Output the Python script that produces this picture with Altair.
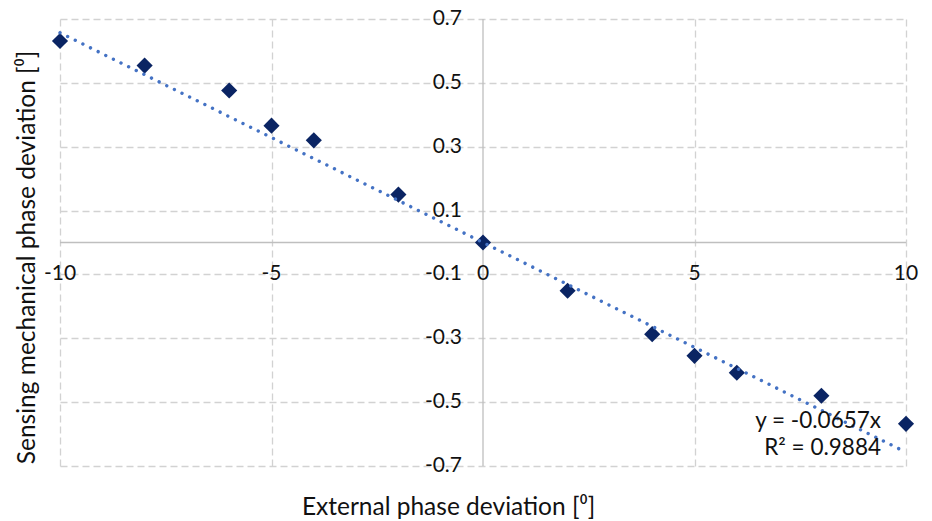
import altair as alt
import pandas as pd

# ---- data ----
x_vals = [-10, -8, -6, -5, -4, -2, 0, 2, 4, 5, 6, 8, 10]
y_vals = [0.631, 0.554, 0.476, 0.366, 0.320, 0.150, 0.0, -0.151, -0.287, -0.355, -0.408, -0.480, -0.568]
slope = -0.0657
trend_x = [-10, 10]
x_ticks = [-10, -5, 0, 5, 10]
x_tick_labels = ["-10", "-5", "0", "5", "10"]
y_ticks = [0.7, 0.5, 0.3, 0.1, -0.1, -0.3, -0.5, -0.7]
y_tick_labels = ["0.7", "0.5", "0.3", "0.1", "-0.1", "-0.3", "-0.5", "-0.7"]
x_grid = [-10, -5, 5, 10]
y_grid = [-0.7, -0.5, -0.3, -0.1, 0.1, 0.3, 0.5, 0.7]
eq_lines = ["y = -0.0657x", "R² = 0.9884"]
eq_x = [10, 10]
eq_y = [-0.559, -0.643]

FONT = "Lato"
TXT = "#111111"

pts = pd.DataFrame({"x": x_vals, "y": y_vals})
trend = pd.DataFrame({"x": trend_x})
xt = pd.DataFrame({"x": x_ticks, "y": [0] * len(x_ticks), "label": x_tick_labels})
yt = pd.DataFrame({"x": [0] * len(y_ticks), "y": y_ticks, "label": y_tick_labels})
eq = pd.DataFrame({"x": eq_x, "y": eq_y, "label": eq_lines})
zero = pd.DataFrame({"v": [0]})

xs = alt.Scale(domain=[-10, 10], nice=False, zero=False)
ys = alt.Scale(domain=[-0.7, 0.7], nice=False, zero=False)

points = alt.Chart(pts).mark_point(
    shape="diamond", filled=True, size=260, color="#0A2463", opacity=1
).encode(
    x=alt.X("x:Q", scale=xs, axis=alt.Axis(
        values=x_grid, grid=True, gridDash=[7, 4], gridColor="#D2D2D2", gridWidth=1.3,
        labels=False, ticks=False, domain=False,
        title="External phase deviation [⁰]", titleFont=FONT, titleFontSize=24.5,
        titleFontWeight="normal", titleColor=TXT, titleX=388, titleY=41,
        titleBaseline="middle", titleAlign="center")),
    y=alt.Y("y:Q", scale=ys, axis=alt.Axis(
        values=y_grid, grid=True, gridDash=[7, 4], gridColor="#D2D2D2", gridWidth=1.3,
        labels=False, ticks=False, domain=False,
        title="Sensing mechanical phase deviation [⁰]", titleFont=FONT, titleFontSize=24.5,
        titleFontWeight="normal", titleColor=TXT, titleX=-33, titleY=238,
        titleBaseline="middle", titleAlign="center", titleAngle=270)),
)

vrule = alt.Chart(zero).mark_rule(color="#BFBFBF", strokeWidth=1.3).encode(
    x=alt.X("v:Q", scale=xs))
hrule = alt.Chart(zero).mark_rule(color="#BFBFBF", strokeWidth=1.3).encode(
    y=alt.Y("v:Q", scale=ys))

trend_line = alt.Chart(trend).transform_calculate(
    y=f"{slope} * datum.x"
).mark_line(
    color="#4472C4", strokeWidth=3.4, strokeDash=[0.01, 8.5], strokeCap="round"
).encode(x=alt.X("x:Q", scale=xs), y=alt.Y("y:Q", scale=ys))

xlab = alt.Chart(xt).mark_text(
    font=FONT, fontSize=21, color=TXT, align="center", baseline="middle", dy=31
).encode(x=alt.X("x:Q", scale=xs), y=alt.Y("y:Q", scale=ys), text="label:N")

ylab = alt.Chart(yt).mark_text(
    font=FONT, fontSize=21, color=TXT, align="right", baseline="middle", dx=-21
).encode(x=alt.X("x:Q", scale=xs), y=alt.Y("y:Q", scale=ys), text="label:N")

eqt = alt.Chart(eq).mark_text(
    font=FONT, fontSize=22.5, color=TXT, align="right", baseline="middle", dx=-25
).encode(x=alt.X("x:Q", scale=xs), y=alt.Y("y:Q", scale=ys), text="label:N")

chart = alt.layer(vrule, hrule, points, trend_line, xlab, ylab, eqt).properties(
    width=846, height=447,
    autosize=alt.AutoSizeParams(type="none"),
    padding={"left": 60, "top": 19, "right": 26, "bottom": 55},
    background="white",
).configure_view(stroke=None)

chart.save("out.html", embed_options={"renderer": "svg", "actions": False})
